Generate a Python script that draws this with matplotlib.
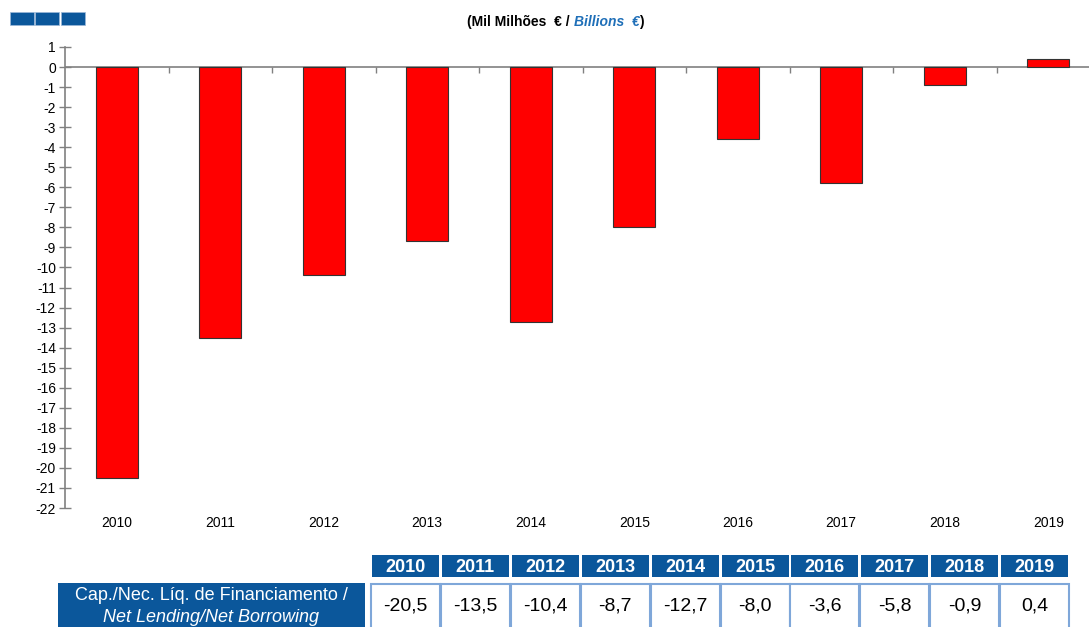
import numpy as np
import matplotlib.pyplot as plt
from matplotlib.patches import Rectangle

years = ['2010', '2011', '2012', '2013', '2014', '2015', '2016', '2017', '2018', '2019']
net_lending = [-20.5, -13.5, -10.4, -8.7, -12.7, -8.0, -3.6, -5.8, -0.9, 0.4]
y_ticks = list(range(1, -23, -1))
row_label_pt = 'Cap./Nec. Líq. de Financiamento /'
row_label_en = 'Net Lending/Net Borrowing'

W, H = 1089, 627
blue = '#0b579b'
plt.rcParams['font.family'] = ['Liberation Sans', 'DejaVu Sans']

fig = plt.figure(figsize=(W / 100, H / 100), dpi=100)

# main bar chart, right edge runs past the figure like the original
ax = fig.add_axes([65 / W, (H - 508) / H, (1100 - 65) / W, (508 - 47) / H])
x = np.arange(len(years))
ax.bar(x, net_lending, width=0.41, color='#ff0000', edgecolor='#333333', linewidth=0.8, zorder=3)
ax.set_xlim(-0.5, len(years) - 0.5)
ax.set_ylim(-22, 1)
ax.set_yticks(y_ticks)
ax.set_yticklabels([str(v) for v in y_ticks], fontsize=10)
ax.tick_params(axis='y', direction='inout', length=9, width=1, color='#808080', pad=2)
ax.set_xticks(x)
ax.set_xticklabels(years, fontsize=10)
ax.tick_params(axis='x', length=0, pad=6)
for s in ['top', 'right', 'bottom']:
    ax.spines[s].set_visible(False)
ax.spines['left'].set_color('#808080')
ax.spines['left'].set_linewidth(1.2)
ax.axhline(0, color='#808080', linewidth=1.2, zorder=2)
# small category separators hanging below the zero line
ax.plot(x[:-1] + 0.5, np.zeros(len(x) - 1), linestyle='none', marker=3,
        markersize=4, markeredgewidth=1, color='#808080', zorder=2)

# overlay in pixel coordinates for header blocks, title and table
ov = fig.add_axes([0, 0, 1, 1])
ov.set_xlim(0, W)
ov.set_ylim(H, 0)
ov.axis('off')
ov.patch.set_alpha(0)

for x0 in [10, 35, 61]:
    ov.add_patch(Rectangle((x0, 12), 23.5, 13, facecolor=blue, edgecolor='#9bb8d8', linewidth=0.5))

t1 = ov.text(467, 22, '(Mil Milhões  € / ', fontsize=10, fontweight='bold', va='center', ha='left')
t2 = ov.annotate('Billions  €', xy=(1, 0), xycoords=t1, va='bottom', ha='left',
                 fontsize=10, fontweight='bold', style='italic', color='#1f6fb8')
ov.annotate(')', xy=(1, 0), xycoords=t2, va='bottom', ha='left', fontsize=10, fontweight='bold')

# table
x_start, pitch, cell_w = 372, 69.9, 67
for i, (yr, v) in enumerate(zip(years, net_lending)):
    cx = x_start + i * pitch
    ov.add_patch(Rectangle((cx, 555), cell_w, 22, facecolor=blue, edgecolor='none'))
    ov.text(cx + cell_w / 2, 567, yr, color='white', fontsize=13, fontweight='bold',
            ha='center', va='center')
    ov.add_patch(Rectangle((cx - 1, 584), cell_w + 2, 50, facecolor='white',
                           edgecolor='#7fa7d9', linewidth=1.5))
    ov.text(cx + cell_w / 2, 606, f'{v:.1f}'.replace('.', ','), color='black', fontsize=14,
            ha='center', va='center')

ov.add_patch(Rectangle((58, 583), 307, 50, facecolor=blue, edgecolor='none'))
ov.text(211, 596, row_label_pt, color='white', fontsize=13, ha='center', va='center')
ov.text(211, 617, row_label_en, color='white', fontsize=13, style='italic', ha='center',
        va='center')

fig.savefig('out.png', dpi=100)
